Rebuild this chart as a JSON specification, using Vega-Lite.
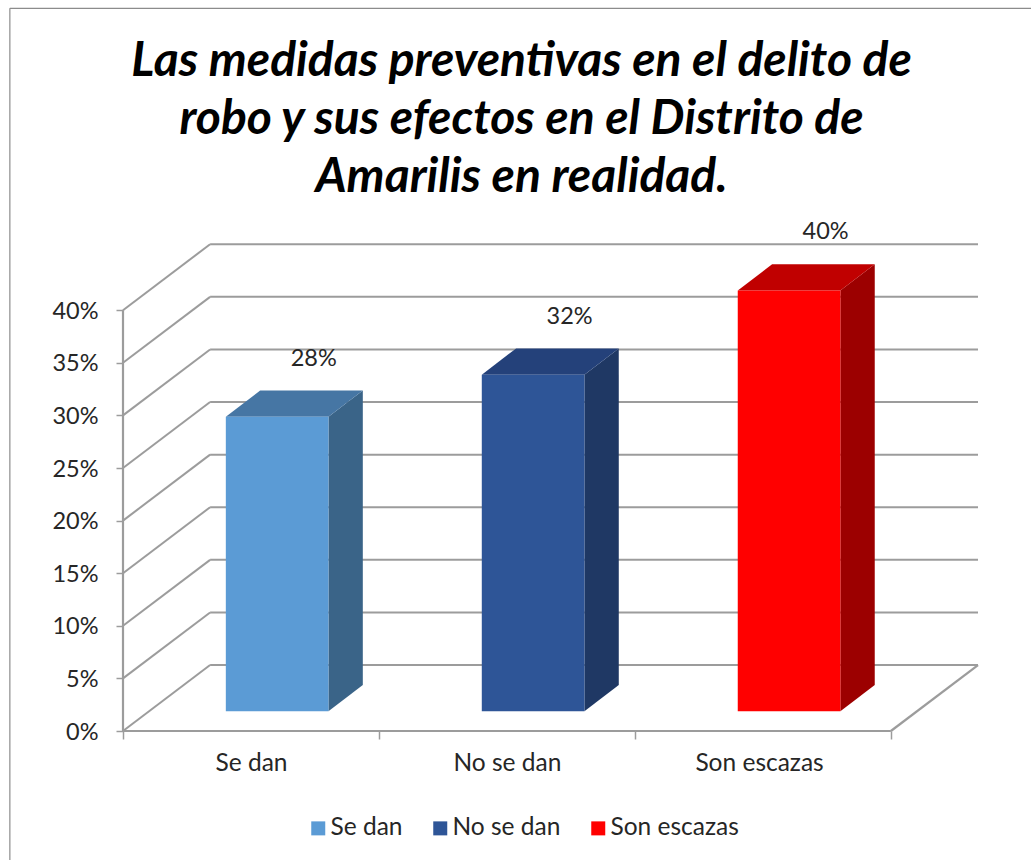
{"$schema":"https://vega.github.io/schema/vega-lite/v6.json","autosize":"none","width":855,"height":487,"padding":{"left":123,"top":244,"right":53,"bottom":129},"background":"white","config":{"view":{"stroke":null}},"title":{"text":["Las medidas preventivas en el delito de","robo y sus efectos en el Distrito de","Amarilis en realidad."],"font":"Lato","fontSize":48,"fontWeight":"bold","fontStyle":"italic","color":"black","lineHeight":58,"anchor":"middle","frame":"group","dx":-29,"offset":-194},"datasets":{"barras":[{"categoria":"Se dan","orden":0,"valor":0.28},{"categoria":"No se dan","orden":1,"valor":0.32},{"categoria":"Son escazas","orden":2,"valor":0.4}],"marcas":[{"marca":0},{"marca":0.05},{"marca":0.1},{"marca":0.15},{"marca":0.2},{"marca":0.25},{"marca":0.3},{"marca":0.35},{"marca":0.4}]},"resolve":{"scale":{"color":"independent"}},"layer":[{"data":{"name":"marcas"},"transform":[{"calculate":"datum.marca+0.0627","as":"fondo"},{"calculate":"0","as":"xa"},{"calculate":"0.3403","as":"xb"}],"mark":{"type":"rule","color":"#9C9C9C","strokeWidth":2},"encoding":{"x":{"field":"xa","type":"quantitative","title":null,"scale":{"domain":[0,3.3403],"nice":false,"zero":false},"axis":{"values":[0,0.5,1,1.5,2,2.485,3],"domain":false,"grid":false,"tickSize":8,"tickColor":"#9C9C9C","tickWidth":1.5,"tickOpacity":{"condition":{"test":"datum.value%1!=0","value":0},"value":1},"labelExpr":"datum.value==0.5?'Se dan':datum.value==1.5?'No se dan':datum.value==2.485?'Son escazas':''","labelFontSize":24.5,"labelFont":"Lato","labelColor":"#262626","labelPadding":12,"labelOverlap":false}},"x2":{"field":"xb"},"y":{"field":"marca","type":"quantitative","title":null,"scale":{"domain":[0,0.46293],"nice":false,"zero":false},"axis":{"values":[0,0.05,0.1,0.15,0.2,0.25,0.3,0.35,0.4],"format":".0%","domain":false,"grid":false,"tickSize":7,"tickColor":"#9C9C9C","tickWidth":1.5,"labelFontSize":23.5,"labelFont":"Lato","labelColor":"#262626","labelPadding":18,"labelOffset":1,"labelOverlap":false}},"y2":{"field":"fondo"}}},{"data":{"name":"marcas"},"transform":[{"calculate":"datum.marca+0.0627","as":"fondo"},{"calculate":"0.3403","as":"xa"},{"calculate":"3.3403","as":"xb"}],"mark":{"type":"rule","color":"#9C9C9C","strokeWidth":2},"encoding":{"x":{"field":"xa","type":"quantitative","title":null},"x2":{"field":"xb"},"y":{"field":"fondo","type":"quantitative","title":null}}},{"data":{"values":[{"borde":"suelo"},{"borde":"frente"},{"borde":"eje"}]},"transform":[{"calculate":"datum.borde=='suelo'?3:0","as":"xa"},{"calculate":"datum.borde=='suelo'?3.3403:datum.borde=='frente'?3:0","as":"xb"},{"calculate":"0","as":"ya"},{"calculate":"datum.borde=='suelo'?0.0627:datum.borde=='eje'?0.4:0","as":"yb"}],"mark":{"type":"rule","color":"#9C9C9C","strokeWidth":2.2},"encoding":{"x":{"field":"xa","type":"quantitative","title":null},"x2":{"field":"xb"},"y":{"field":"ya","type":"quantitative","title":null},"y2":{"field":"yb"}}},{"data":{"values":[{"borde":"izquierdo"},{"borde":"superior"}]},"transform":[{"calculate":"-0.442","as":"xa"},{"calculate":"datum.borde=='superior'?3.551:-0.442","as":"xb"},{"calculate":"datum.borde=='superior'?0.687:-0.1226","as":"ya"},{"calculate":"0.687","as":"yb"}],"mark":{"type":"rule","color":"#8C8C8C","strokeWidth":1.2},"encoding":{"x":{"field":"xa","type":"quantitative","title":null},"x2":{"field":"xb"},"y":{"field":"ya","type":"quantitative","title":null},"y2":{"field":"yb"}}},{"data":{"name":"barras"},"transform":[{"calculate":"[0,1]","as":"paso"},{"flatten":["paso"]},{"calculate":"datum.orden+0.8027+datum.paso*0.1342","as":"xs"},{"calculate":"0.0187+datum.paso*0.025","as":"base"},{"calculate":"datum.valor+0.0187+datum.paso*0.025","as":"tope"}],"mark":{"type":"area","interpolate":"linear"},"encoding":{"x":{"field":"xs","type":"quantitative","title":null},"y":{"field":"tope","type":"quantitative","title":null},"y2":{"field":"base"},"color":{"field":"categoria","type":"nominal","legend":null,"scale":{"domain":["Se dan","No se dan","Son escazas"],"range":["#3A6488","#1F3864","#9C0000"]}}}},{"data":{"name":"barras"},"transform":[{"calculate":"[0,1,2,3]","as":"paso"},{"flatten":["paso"]},{"calculate":"datum.orden+[0.4017,0.5359,0.8027,0.9369][datum.paso]","as":"xt"},{"calculate":"datum.valor+0.0187+(datum.paso==3?0.025:0)","as":"bajo"},{"calculate":"datum.valor+0.0187+(datum.paso>=1?0.025:0)","as":"alto"}],"mark":{"type":"area","interpolate":"linear"},"encoding":{"x":{"field":"xt","type":"quantitative","title":null},"y":{"field":"alto","type":"quantitative","title":null},"y2":{"field":"bajo"},"color":{"field":"categoria","type":"nominal","legend":null,"scale":{"domain":["Se dan","No se dan","Son escazas"],"range":["#4676A4","#24417A","#C00000"]}}}},{"data":{"name":"barras"},"transform":[{"calculate":"datum.orden+0.4017","as":"izq"},{"calculate":"datum.orden+0.8027","as":"der"},{"calculate":"datum.valor+0.0187","as":"tope"},{"calculate":"0.0187","as":"base"}],"mark":{"type":"rect"},"encoding":{"x":{"field":"izq","type":"quantitative","title":null},"x2":{"field":"der"},"y":{"field":"tope","type":"quantitative","title":null},"y2":{"field":"base"},"color":{"field":"categoria","type":"nominal","scale":{"domain":["Se dan","No se dan","Son escazas"],"range":["#5B9BD5","#2E5597","#FF0000"]},"legend":{"title":null,"orient":"none","direction":"horizontal","legendX":183,"legendY":572,"symbolType":"square","symbolSize":196,"symbolStrokeWidth":0,"labelFontSize":24.5,"labelFont":"Lato","labelColor":"#262626","columnPadding":25,"labelOffset":0}}}},{"data":{"name":"barras"},"transform":[{"calculate":"datum.orden+0.745","as":"xe"},{"calculate":"datum.valor+0.074","as":"ye"}],"mark":{"type":"text","fontSize":23.5,"font":"Lato","color":"#262626","align":"center","baseline":"middle"},"encoding":{"x":{"field":"xe","type":"quantitative","title":null},"y":{"field":"ye","type":"quantitative","title":null},"text":{"field":"valor","type":"quantitative","format":".0%"}}}]}
